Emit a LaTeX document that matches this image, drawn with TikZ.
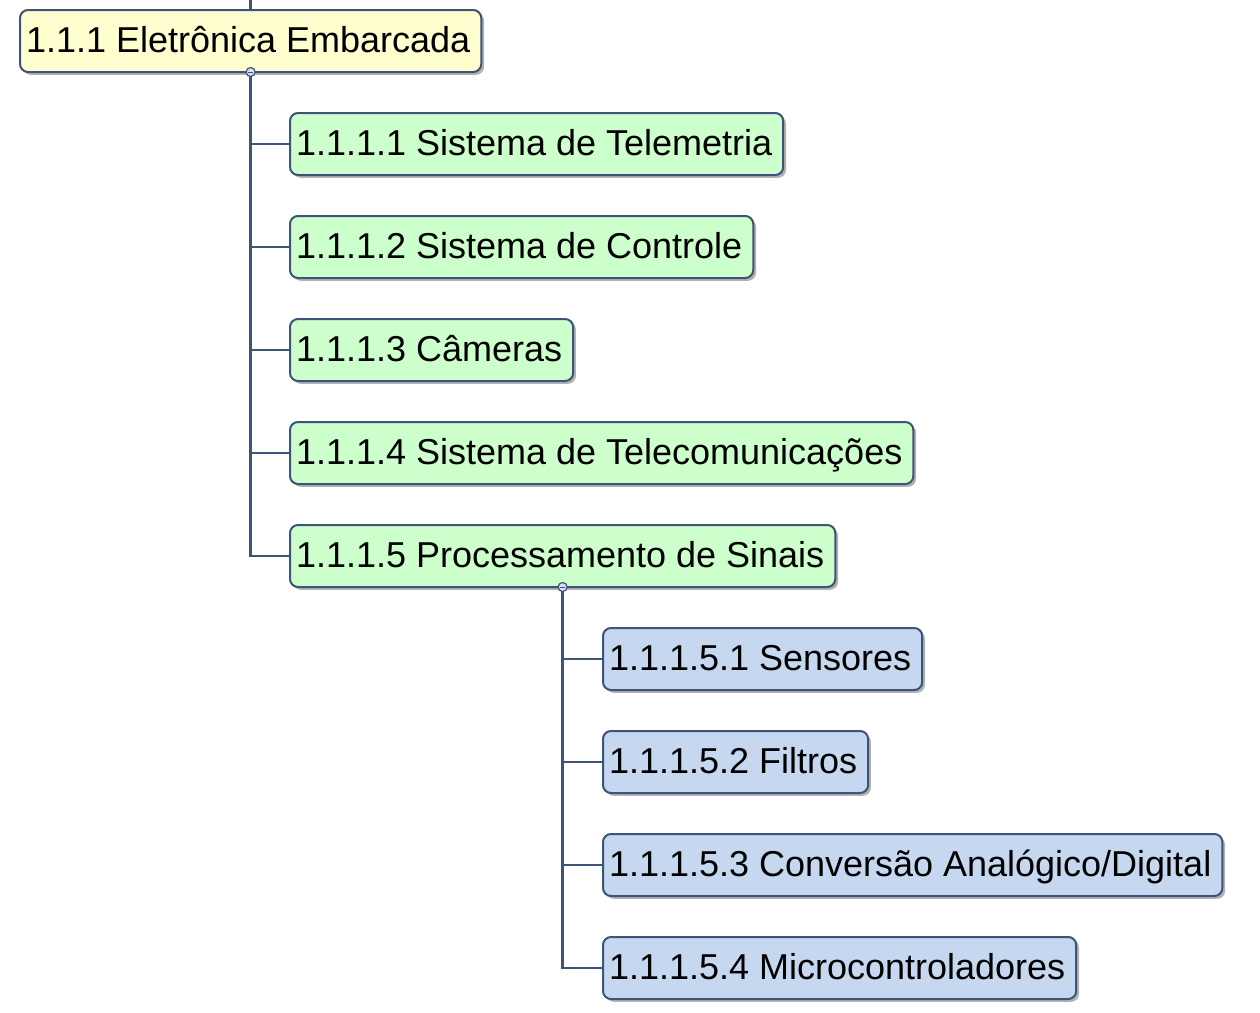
\documentclass[tikz,border=0pt]{standalone}
\usepackage{fontspec}
\setmainfont{Liberation Sans}
\usetikzlibrary{shadows}
\definecolor{wbsline}{HTML}{3E5378}
\definecolor{wbsyellow}{HTML}{FEFECE}
\definecolor{wbsgreen}{HTML}{CCFFCC}
\definecolor{wbsblue}{HTML}{C6D8F0}
\definecolor{knobfill}{HTML}{D4DEEC}
\tikzset{
	wbsbox/.style={draw=wbsline, line width=1pt, rounded corners=4pt, anchor=north west, outer sep=0pt,
		minimum height=31pt, inner xsep=3pt, inner ysep=0pt, text height=11pt, text depth=0pt,
		font=\fontsize{18}{21}\selectfont, execute at end node={\hspace{2.5pt}},
		drop shadow={shadow xshift=1.4pt, shadow yshift=-1.4pt, fill=black, opacity=0.3}},
	conn/.style={draw=wbsline, line width=1.2pt},
	knob/.style={circle, draw=wbsline, fill=knobfill, line width=0.6pt, minimum size=4.5pt, inner sep=0pt,
		path picture={\draw[wbsline, line width=0.5pt] ([xshift=-1.3pt]path picture bounding box.center) -- ([xshift=1.3pt]path picture bounding box.center);}}
}
\begin{document}
\begin{tikzpicture}[x=0.5pt, y=-0.5pt]
	\useasboundingbox (0,0) rectangle (1260,1013);
	% level 1
	\node [wbsbox, fill=wbsyellow] (root) at (20,10) {1.1.1 Eletrônica Embarcada};
	% level 2
	\node [wbsbox, fill=wbsgreen] (a1) at (290,113) {1.1.1.1 Sistema de Telemetria};
	\node [wbsbox, fill=wbsgreen] (a2) at (290,216) {1.1.1.2 Sistema de Controle};
	\node [wbsbox, fill=wbsgreen] (a3) at (290,319) {1.1.1.3 Câmeras};
	\node [wbsbox, fill=wbsgreen] (a4) at (290,422) {1.1.1.4 Sistema de Telecomunicações};
	\node [wbsbox, fill=wbsgreen] (a5) at (290,525) {1.1.1.5 Processamento de Sinais};
	% level 3
	\node [wbsbox, fill=wbsblue] (b1) at (603,628) {1.1.1.5.1 Sensores};
	\node [wbsbox, fill=wbsblue] (b2) at (603,731) {1.1.1.5.2 Filtros};
	\node [wbsbox, fill=wbsblue] (b3) at (603,834) {1.1.1.5.3 Conversão Analógico/Digital};
	\node [wbsbox, fill=wbsblue] (b4) at (603,937) {1.1.1.5.4 Microcontroladores};
	% connectors
	\coordinate (top) at (root.north |- 0,0);
	\draw [conn] (top) -- (root.north);
	\foreach \n in {a1,a2,a3,a4,a5}
		\draw [conn] (root.south) |- (\n.west);
	\foreach \n in {b1,b2,b3,b4}
		\draw [conn] (a5.south) |- (\n.west);
	\node [knob] (k1) at (root.south) {};
	\node [knob] (k2) at (a5.south) {};
\end{tikzpicture}
\end{document}
